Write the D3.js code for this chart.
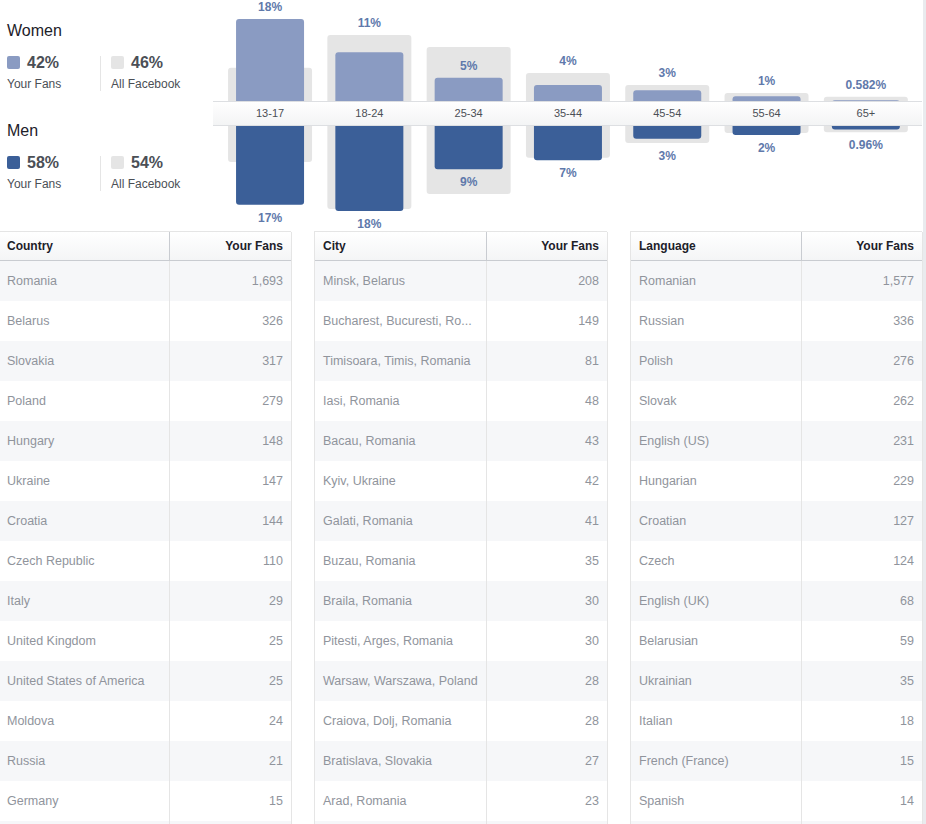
<!DOCTYPE html>
<html>
<head>
<meta charset="utf-8">
<script src="https://cdn.jsdelivr.net/npm/d3@7"></script>
<style>
  body { margin: 0; background: #fff; }
  svg { display: block; font-family: "Liberation Sans", Arial, sans-serif; }
</style>
</head>
<body>
<svg id="chart" width="926" height="824"></svg>
<script>
// age / gender data (percent of fans)
var ageGroups = ["13-17", "18-24", "25-34", "35-44", "45-54", "55-64", "65+"];
var womenFans = [17.7, 10.7, 5.3, 3.8, 2.7, 1.4, 0.582];
var womenAll  = [7.4, 14.3, 11.8, 6.3, 3.8, 2.1, 1.3];
var menFans   = [16.8, 18.1, 9.3, 7.4, 2.9, 2.1, 0.96];
var menAll    = [7.8, 17.7, 14.5, 6.9, 3.8, 1.7, 1.5];

var genders = ["Women", "Men"];
var genderFans = [42, 58];
var genderAll = [46, 54];

// tables
var countries = ["Romania", "Belarus", "Slovakia", "Poland", "Hungary", "Ukraine", "Croatia",
  "Czech Republic", "Italy", "United Kingdom", "United States of America", "Moldova", "Russia", "Germany"];
var countryFans = [1693, 326, 317, 279, 148, 147, 144, 110, 29, 25, 25, 24, 21, 15];

var cities = ["Minsk, Belarus", "Bucharest, Bucuresti, Romania", "Timisoara, Timis, Romania",
  "Iasi, Romania", "Bacau, Romania", "Kyiv, Ukraine", "Galati, Romania", "Buzau, Romania",
  "Braila, Romania", "Pitesti, Arges, Romania", "Warsaw, Warszawa, Poland", "Craiova, Dolj, Romania",
  "Bratislava, Slovakia", "Arad, Romania"];
var cityFans = [208, 149, 81, 48, 43, 42, 41, 35, 30, 30, 28, 28, 27, 23];

var languages = ["Romanian", "Russian", "Polish", "Slovak", "English (US)", "Hungarian", "Croatian",
  "Czech", "English (UK)", "Belarusian", "Ukrainian", "Italian", "French (France)", "Spanish"];
var languageFans = [1577, 336, 276, 262, 231, 229, 127, 124, 68, 59, 35, 18, 15, 14];

var fansColumn = "Your Fans";
var allColumn = "All Facebook";

var womenColor = "#8a9bc2";
var menColor = "#3b5f98";
var allColor = "#e5e5e5";
var labelColor = "#6079ab";

var svg = d3.select("#chart");

var defs = svg.append("defs");
var g1 = defs.append("linearGradient").attr("id", "bandGrad")
  .attr("x1", 0).attr("y1", 0).attr("x2", 0).attr("y2", 1);
g1.append("stop").attr("offset", "0%").attr("stop-color", "#ffffff");
g1.append("stop").attr("offset", "100%").attr("stop-color", "#f3f4f5");
var g2 = defs.append("linearGradient").attr("id", "headGrad")
  .attr("x1", 0).attr("y1", 0).attr("x2", 0).attr("y2", 1);
g2.append("stop").attr("offset", "0%").attr("stop-color", "#ffffff");
g2.append("stop").attr("offset", "100%").attr("stop-color", "#f4f5f6");

/* ---------- legend ---------- */
var legend = svg.append("g");
genders.forEach(function(name, i) {
  var g = legend.append("g").attr("transform", `translate(0, ${i * 100})`);
  g.append("text").attr("x", 7).attr("y", 36)
    .style("font-size", "16px").attr("fill", "#1d2129").text(name);
  [[genderFans[i], fansColumn, i == 0 ? womenColor : menColor, 7],
   [genderAll[i], allColumn, allColor, 111]].forEach(function(p) {
    g.append("rect").attr("x", p[3]).attr("y", 56).attr("width", 13).attr("height", 13)
      .attr("rx", 2).attr("fill", p[2]);
    g.append("text").attr("x", p[3] + 20).attr("y", 68)
      .style("font-size", "16px").style("font-weight", "bold").attr("fill", "#4b4f56")
      .text(p[0] + "%");
    g.append("text").attr("x", p[3]).attr("y", 88)
      .style("font-size", "12px").attr("fill", "#4b4f56").text(p[1]);
  });
  g.append("line").attr("x1", 100.5).attr("x2", 100.5).attr("y1", 56).attr("y2", 91)
    .attr("stroke", "#e5e5e5");
});

/* ---------- age bars ---------- */
var x = d3.scaleBand().domain(ageGroups).range([220.4, 915.5]);
var bandTop = 101, bandBottom = 125;
var yW = d3.scaleLinear().domain([0, 20]).range([103, 103 - 95]);
var yM = d3.scaleLinear().domain([0, 20]).range([bandBottom, bandBottom + 95]);
var barW = 68, bgW = 84;

var fmt = function(v) { return v < 1 ? v + "%" : Math.round(v) + "%"; };

var ages = ageGroups.map(function(a, i) {
  return {age: a, wf: womenFans[i], wa: womenAll[i], mf: menFans[i], ma: menAll[i]};
});

var bars = svg.append("g").selectAll("g").data(ages).enter().append("g")
  .attr("transform", d => `translate(${x(d.age) + x.bandwidth() / 2}, 0)`);

// all facebook backgrounds
bars.append("rect")
  .attr("x", -bgW / 2).attr("width", bgW)
  .attr("y", d => yW(d.wa))
  .attr("height", d => yM(d.ma) - yW(d.wa))
  .attr("rx", 3).attr("fill", allColor);

// women
bars.append("rect")
  .attr("x", -barW / 2).attr("width", barW)
  .attr("y", d => yW(d.wf))
  .attr("height", d => yW(0) - yW(d.wf) + 4)
  .attr("rx", 3).attr("fill", womenColor);

// men
bars.append("rect")
  .attr("x", -barW / 2).attr("width", barW)
  .attr("y", bandBottom - 4)
  .attr("height", d => yM(d.mf) - bandBottom + 4)
  .attr("rx", 3).attr("fill", menColor);

// value labels
bars.append("text")
  .attr("text-anchor", "middle")
  .attr("y", function(d) {
    var top = yW(d.wf), bg = yW(d.wa);
    var ref = (bg < top - 22) ? top : Math.min(top, bg);
    return ref - 8;
  })
  .style("font-size", "12px").style("font-weight", "bold").attr("fill", labelColor)
  .text(d => fmt(d.wf));

bars.append("text")
  .attr("text-anchor", "middle")
  .attr("y", function(d) {
    var bot = yM(d.mf), bg = yM(d.ma);
    var ref = (bg > bot + 22) ? bot : Math.max(bot, bg);
    return ref + 17;
  })
  .style("font-size", "12px").style("font-weight", "bold").attr("fill", labelColor)
  .text(d => fmt(d.mf));

// axis band
svg.append("rect").attr("x", 213).attr("y", bandTop).attr("width", 709)
  .attr("height", bandBottom - bandTop).attr("fill", "url(#bandGrad)");
svg.append("line").attr("x1", 213).attr("x2", 922).attr("y1", bandTop + 0.5).attr("y2", bandTop + 0.5)
  .attr("stroke", "#dddfe2");
svg.append("line").attr("x1", 213).attr("x2", 922).attr("y1", bandBottom + 0.5).attr("y2", bandBottom + 0.5)
  .attr("stroke", "#dddfe2");

var xAxis = svg.append("g")
  .attr("transform", `translate(0, ${bandTop + 16})`)
  .call(d3.axisBottom(x).tickSize(0).tickPadding(0));
xAxis.select(".domain").remove();
xAxis.selectAll("text")
  .attr("dy", 0).attr("y", 0)
  .style("font-family", "Liberation Sans, Arial, sans-serif")
  .style("font-size", "11px").attr("fill", "#4b4f56");

/* ---------- tables ---------- */
var tables = [
  {title: "Country", names: countries, values: countryFans, x0: 0, x1: 291, div: 169, pad: 7},
  {title: "City", names: cities, values: cityFans, x0: 314, x1: 607, div: 486, pad: 9},
  {title: "Language", names: languages, values: languageFans, x0: 630, x1: 922, div: 801, pad: 9}
];

var headTop = 232, headH = 28, rowTop = 261, rowH = 40;
var numFmt = d3.format(",");

tables.forEach(function(t) {
  var g = svg.append("g");
  var w = t.x1 - t.x0;
  var rows = t.names.map(function(n, i) { return {name: n, value: t.values[i]}; });
  var yRow = d3.scaleBand().domain(d3.range(rows.length + 1))
    .range([rowTop, rowTop + rowH * (rows.length + 1)]);

  // row stripes (plus the next row peeking in at the bottom)
  g.selectAll(".stripe").data(d3.range(rows.length + 1)).enter().append("rect")
    .attr("x", t.x0).attr("width", w)
    .attr("y", i => yRow(i)).attr("height", yRow.bandwidth())
    .attr("fill", i => i % 2 == 0 ? "#f6f7f9" : "#ffffff");

  // header
  g.append("rect").attr("x", t.x0).attr("y", headTop).attr("width", w).attr("height", headH)
    .attr("fill", "url(#headGrad)");
  g.append("line").attr("x1", t.x0).attr("x2", t.x1).attr("y1", headTop - 0.5).attr("y2", headTop - 0.5)
    .attr("stroke", "#e5e5e5");
  g.append("line").attr("x1", t.x0).attr("x2", t.x1).attr("y1", rowTop - 0.5).attr("y2", rowTop - 0.5)
    .attr("stroke", "#c9ccd1");

  // vertical rules
  g.append("line").attr("x1", t.div + 0.5).attr("x2", t.div + 0.5).attr("y1", headTop).attr("y2", rowTop)
    .attr("stroke", "#c9ccd1");
  g.append("line").attr("x1", t.div + 0.5).attr("x2", t.div + 0.5).attr("y1", rowTop).attr("y2", 824)
    .attr("stroke", "#e5e5e5");
  if (t.x0 > 0) {
    g.append("line").attr("x1", t.x0 + 0.5).attr("x2", t.x0 + 0.5).attr("y1", headTop).attr("y2", 824)
      .attr("stroke", "#e5e5e5");
  }
  g.append("line").attr("x1", t.x1 + 0.5).attr("x2", t.x1 + 0.5).attr("y1", headTop).attr("y2", 824)
    .attr("stroke", "#e5e5e5");

  g.append("text").attr("x", t.x0 + t.pad).attr("y", headTop + 18)
    .style("font-size", "12px").style("font-weight", "bold").attr("fill", "#1d2129").text(t.title);
  g.append("text").attr("x", t.x1 - 8).attr("y", headTop + 18).attr("text-anchor", "end")
    .style("font-size", "12px").style("font-weight", "bold").attr("fill", "#1d2129").text(fansColumn);

  var cells = g.selectAll(".row").data(rows).enter().append("g")
    .attr("transform", (d, i) => `translate(0, ${yRow(i) + 24})`);

  var maxW = t.div - t.x0 - t.pad - 4;
  cells.append("text").attr("x", t.x0 + t.pad)
    .style("font-size", "12.5px").attr("fill", "#90949c")
    .text(d => d.name)
    .each(function(d) {
      var el = d3.select(this), s = d.name;
      if (this.getComputedTextLength() > maxW) {
        while (s.length > 1 && this.getComputedTextLength() > maxW - 10) {
          s = s.slice(0, -1);
          el.text(s.trim() + "...");
        }
      }
    });
  cells.append("text").attr("x", t.x1 - 8).attr("text-anchor", "end")
    .style("font-size", "12.5px").attr("fill", "#90949c")
    .text(d => numFmt(d.value));
});

// right edge strip
svg.append("rect").attr("x", 923).attr("y", 0).attr("width", 3).attr("height", 824).attr("fill", "#e9ebee");
</script>
</body>
</html>
